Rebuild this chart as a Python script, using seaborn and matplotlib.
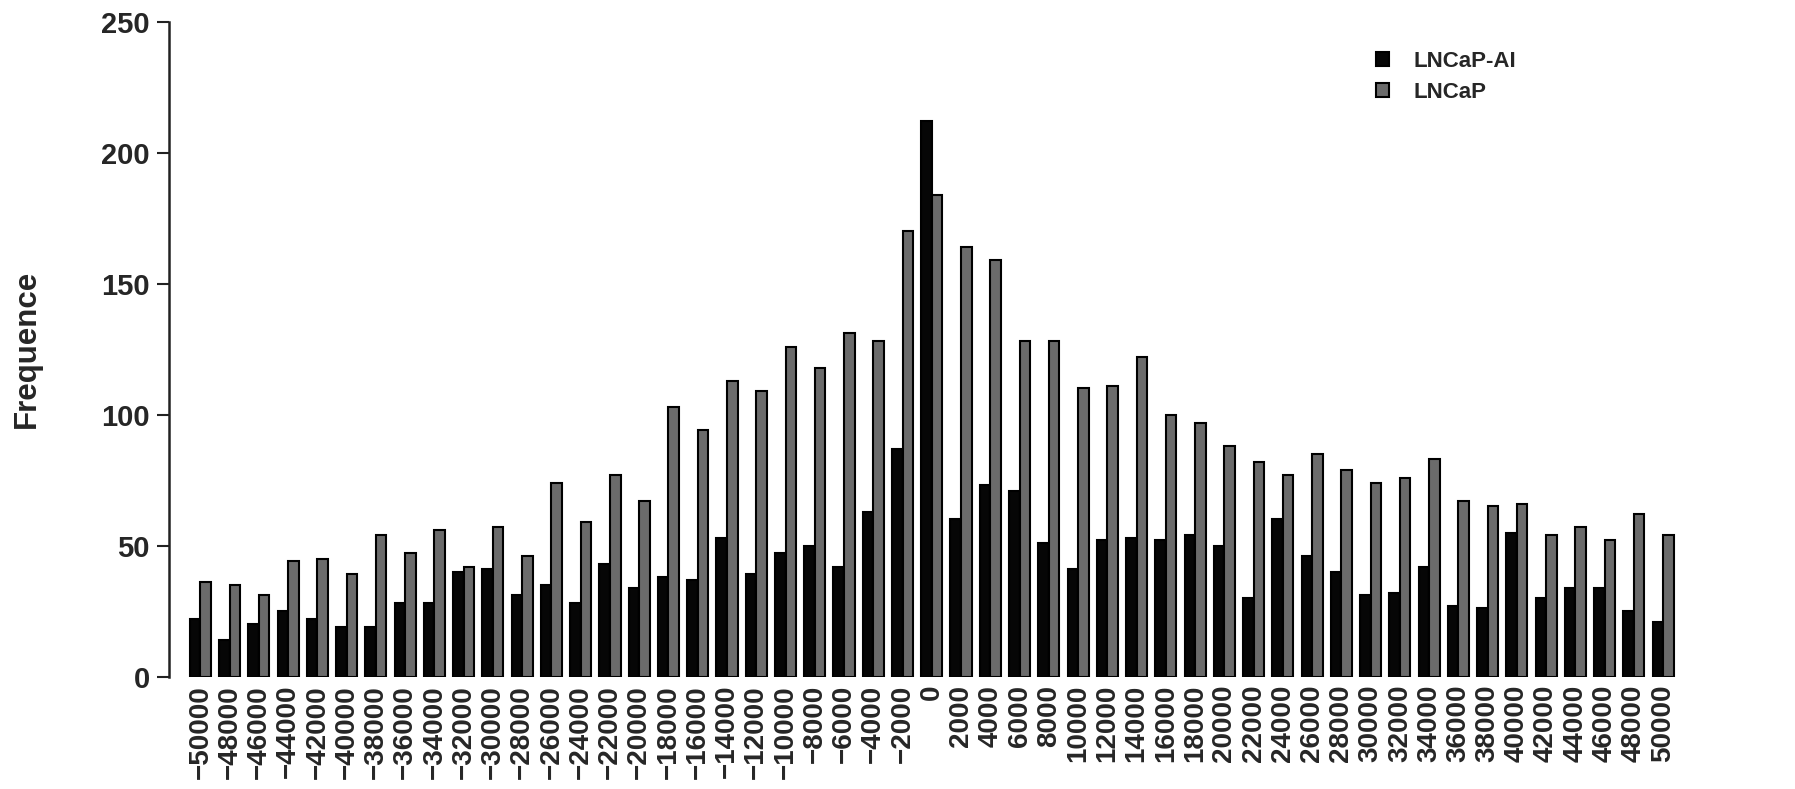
import numpy as np
import pandas as pd
import matplotlib
matplotlib.use('Agg')
import matplotlib.pyplot as plt
import seaborn as sns

# distance bins (bp) and counts
positions = list(range(-50000, 50001, 2000))
lncap_ai = [22, 14, 20, 25, 22, 19, 19, 28, 28, 40,
            41, 31, 35, 28, 43, 34, 38, 37, 53, 39,
            47, 50, 42, 63, 87, 212, 60, 73, 71, 51,
            41, 52, 53, 52, 54, 50, 30, 60, 46, 40,
            31, 32, 42, 27, 26, 55, 30, 34, 34, 25, 21]
lncap = [36, 35, 31, 44, 45, 39, 54, 47, 56, 42,
         57, 46, 74, 59, 77, 67, 103, 94, 113, 109,
         126, 118, 131, 128, 170, 184, 164, 159, 128, 128,
         110, 111, 122, 100, 97, 88, 82, 77, 85, 79,
         74, 76, 83, 67, 65, 66, 54, 57, 52, 62, 54]
series_names = ['LNCaP-AI', 'LNCaP']
series_colors = ['#060606', '#6b6b6b']

# tick labels use a real minus sign like the original
pos_labels = [str(p).replace('-', '\u2212') for p in positions]

df = pd.DataFrame({
    'pos': pos_labels * 2,
    'freq': lncap_ai + lncap,
    'line': [series_names[0]] * len(positions) + [series_names[1]] * len(positions),
})

sns.set_style('white')
plt.rcParams['font.family'] = ['Liberation Sans', 'DejaVu Sans']
plt.rcParams['font.weight'] = 'bold'

fig = plt.figure(figsize=(17.95, 7.89), dpi=100)
ax = fig.add_axes([169.4 / 1795, 0.1425, 1530.6 / 1795, 0.8299])

sns.barplot(data=df, x='pos', y='freq', hue='line', order=pos_labels,
            hue_order=series_names, palette=series_colors, width=0.72,
            edgecolor='black', linewidth=1.5, saturation=1, ax=ax)

ax.set_xlim(-1.06, 51.26)
ax.set_ylim(0, 250)
ax.set_yticks([0, 50, 100, 150, 200, 250])
ax.set_xlabel('')
ax.set_ylabel('Frequence', fontsize=22.5, fontweight='bold', labelpad=43)

for s in ['top', 'right', 'bottom']:
    ax.spines[s].set_visible(False)
ax.spines['left'].set_color('#222222')
ax.spines['left'].set_linewidth(1.8)

ax.tick_params(axis='y', length=9, width=1.5, color='#222222', direction='out',
               labelsize=21, pad=5, left=True)
ax.tick_params(axis='x', length=0, labelsize=20, pad=6, labelrotation=90)
for lab in ax.get_xticklabels() + ax.get_yticklabels():
    lab.set_fontweight('bold')

leg = ax.legend(loc='upper right', bbox_to_anchor=(0.856, 0.961),
                bbox_transform=fig.transFigure, frameon=False, fontsize=16,
                handlelength=0.6, handleheight=0.6, handletextpad=1.1, labelspacing=0.45)
for t in leg.get_texts():
    t.set_fontweight('bold')

fig.savefig('out.png', dpi=100)
